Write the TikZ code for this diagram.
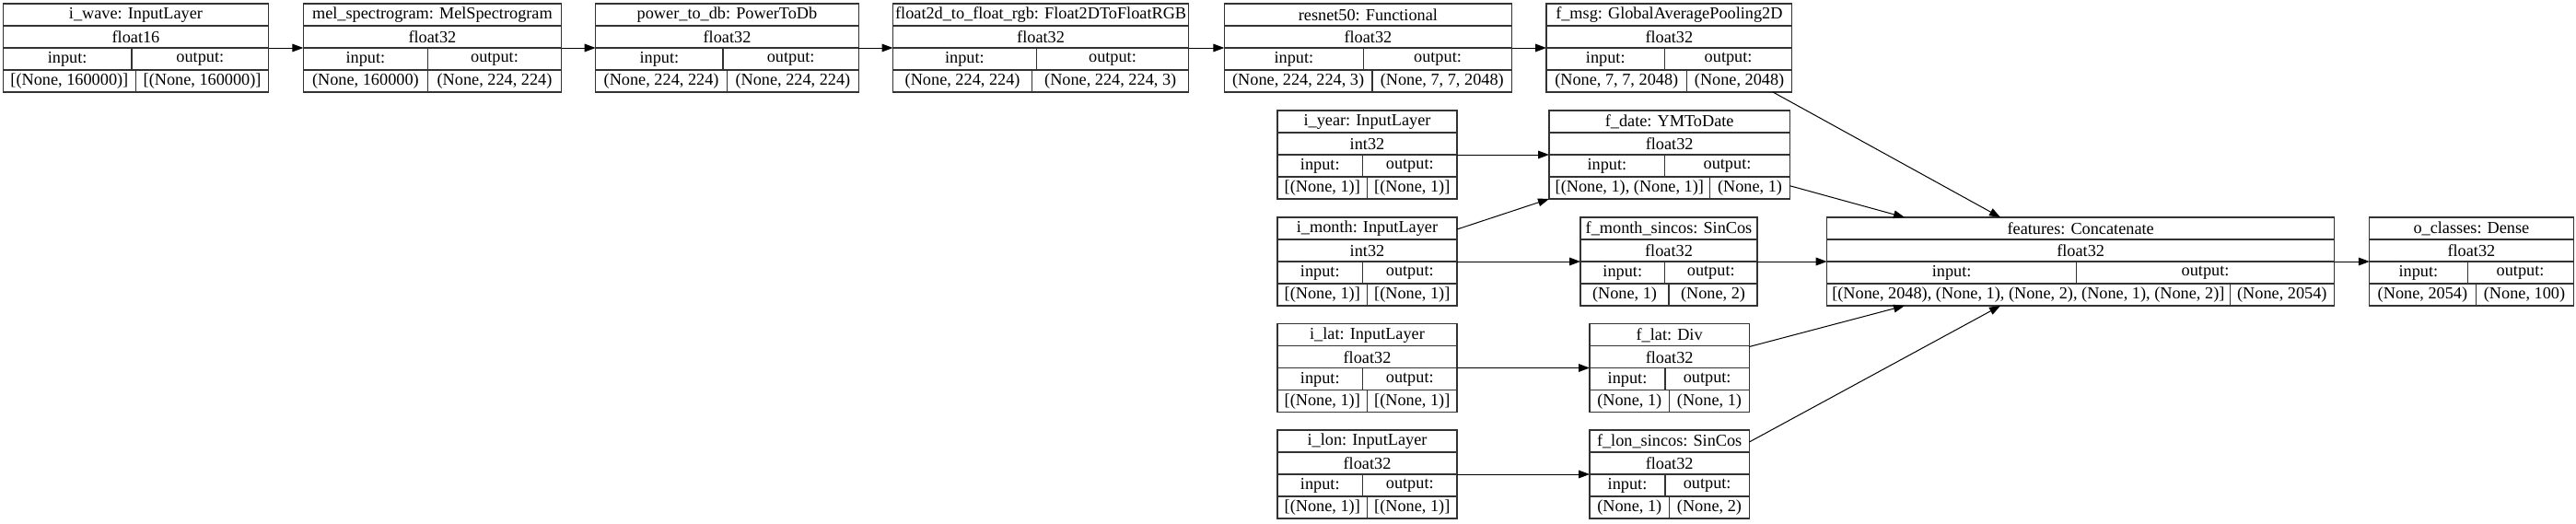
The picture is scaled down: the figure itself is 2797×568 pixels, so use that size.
\documentclass[tikz,border=0pt]{standalone}
\usepackage{fontspec}
\setmainfont{Liberation Serif}
\usetikzlibrary{fit,calc,arrows.meta}
\tikzset{
  boxc/.style={draw=black!80, line width=0.8pt, inner sep=0pt, outer sep=0pt},
  inner/.style={draw=black!80, line width=0.8pt},
  txt/.style={inner sep=0pt, font=\fontsize{13.7}{16}\selectfont, anchor=center},
  conn/.style={draw=black, line width=0.75pt, -{Triangle[length=9pt,width=6.5pt]}}
}
\newcommand\layer[7]{%
  \def\curL{#2}\def\curT{#3}\def\curR{#4}\def\curA{#5}\def\curB{#6}%
  \coordinate (#1-nw) at ({#2},{#3});
  \coordinate (#1-se) at ({#4},{#3+96});
  \node[boxc, fit=(#1-nw)(#1-se)] (#1) {};
  \draw[inner] ({#2},{#3+24}) -- ({#4},{#3+24});
  \draw[inner] ({#2},{#3+48}) -- ({#4},{#3+48});
  \draw[inner] ({#2},{#3+72}) -- ({#4},{#3+72});
  \draw[inner] ({#5},{#3+48}) -- ({#5},{#3+72});
  \draw[inner] ({#6},{#3+72}) -- ({#6},{#3+96});
  \node[txt] (#1-title) at ({(#2+#4)/2},{#3+12.5}) {#7};
}
\newcommand\layerio[4]{%
  \node[txt] (#1-dtype) at ({(\curL+\curR)/2},{\curT+36.5}) {#2};
  \node[txt] (#1-inh) at ({(\curL+\curA)/2},{\curT+60.5}) {input:};
  \node[txt] (#1-outh) at ({(\curA+\curR)/2},{\curT+60.5}) {output:};
  \node[txt] (#1-inv) at ({(\curL+\curB)/2},{\curT+84.5}) {#3};
  \node[txt] (#1-outv) at ({(\curB+\curR)/2},{\curT+84.5}) {#4};
}
\begin{document}
\begin{tikzpicture}[x=0.75pt,y=-0.75pt]
\useasboundingbox (0,0) rectangle (2797,568);
% top row
\layer{iwave}{3.3}{4}{291.7}{143}{147.5}{i\_wave: InputLayer}
\layerio{iwave}{float16}{[(None, 160000)]}{[(None, 160000)]}
\layer{mel}{329.3}{4}{609.5}{464.5}{464.5}{mel\_spectrogram: MelSpectrogram}
\layerio{mel}{float32}{(None, 160000)}{(None, 224, 224)}
\layer{ptdb}{646.7}{4}{932.3}{785}{789.5}{power\_to\_db: PowerToDb}
\layerio{ptdb}{float32}{(None, 224, 224)}{(None, 224, 224)}
\layer{ftorgb}{969.5}{4}{1290.7}{1125.3}{1120.7}{float2d\_to\_float\_rgb: Float2DToFloatRGB}
\layerio{ftorgb}{float32}{(None, 224, 224)}{(None, 224, 224, 3)}
\layer{resnet}{1329.3}{4}{1641.5}{1480.5}{1490}{resnet50: Functional}
\layerio{resnet}{float32}{(None, 224, 224, 3)}{(None, 7, 7, 2048)}
\layer{fmsg}{1679}{4}{1945.7}{1807.5}{1831.5}{f\_msg: GlobalAveragePooling2D}
\layerio{fmsg}{float32}{(None, 7, 7, 2048)}{(None, 2048)}
% inputs column
\layer{iyear}{1387}{120}{1582}{1479.5}{1484.5}{i\_year: InputLayer}
\layerio{iyear}{int32}{[(None, 1)]}{[(None, 1)]}
\layer{imonth}{1387}{236}{1582}{1479.5}{1484.5}{i\_month: InputLayer}
\layerio{imonth}{int32}{[(None, 1)]}{[(None, 1)]}
\layer{ilat}{1387}{351.5}{1582}{1479.5}{1484.5}{i\_lat: InputLayer}
\layerio{ilat}{float32}{[(None, 1)]}{[(None, 1)]}
\layer{ilon}{1387}{467}{1582}{1479.5}{1484.5}{i\_lon: InputLayer}
\layerio{ilon}{float32}{[(None, 1)]}{[(None, 1)]}
% feature column
\layer{fdate}{1682}{120}{1943.3}{1807.7}{1856.7}{f\_date: YMToDate}
\layerio{fdate}{float32}{[(None, 1), (None, 1)]}{(None, 1)}
\layer{fmonth}{1716}{236}{1908}{1807.5}{1812}{f\_month\_sincos: SinCos}
\layerio{fmonth}{float32}{(None, 1)}{(None, 2)}
\layer{flat}{1726}{351.5}{1899.3}{1808}{1812.6}{f\_lat: Div}
\layerio{flat}{float32}{(None, 1)}{(None, 1)}
\layer{flon}{1726}{467}{1899.3}{1808}{1812.6}{f\_lon\_sincos: SinCos}
\layerio{flon}{float32}{(None, 1)}{(None, 2)}
% concat and output
\layer{features}{1983.7}{236}{2534.6}{2254.5}{2421}{features: Concatenate}
\layerio{features}{float32}{[(None, 2048), (None, 1), (None, 2), (None, 1), (None, 2)]}{(None, 2054)}
\layer{oclasses}{2572.8}{236}{2794}{2679}{2688}{o\_classes: Dense}
\layerio{oclasses}{float32}{(None, 2054)}{(None, 100)}
% connectors
\draw[conn] (iwave.east) -- (mel.west);
\draw[conn] (mel.east) -- (ptdb.west);
\draw[conn] (ptdb.east) -- (ftorgb.west);
\draw[conn] (ftorgb.east) -- (resnet.west);
\draw[conn] (resnet.east) -- (fmsg.west);
\draw[conn] (iyear.east) -- (fdate.west);
\draw[conn] ($(imonth.north east)+(0,13)$) -- (fdate.south west);
\draw[conn] (imonth.east) -- (fmonth.west);
\draw[conn] (ilat.east) -- (flat.west);
\draw[conn] (ilon.east) -- (flon.west);
\draw[conn] ($(fmsg.south west)+(246,0)$) -- ($(features.north west)+(188.3,0)$);
\draw[conn] ($(fdate.north east)+(0,81.7)$) -- ($(features.north west)+(84.3,0)$);
\draw[conn] (fmonth.east) -- (features.west);
\draw[conn] ($(flat.north east)+(0,25)$) -- ($(features.south west)+(84.3,0)$);
\draw[conn] ($(flon.north east)+(0,13)$) -- ($(features.south west)+(188.3,0)$);
\draw[conn] (features.east) -- (oclasses.west);
\end{tikzpicture}
\end{document}
